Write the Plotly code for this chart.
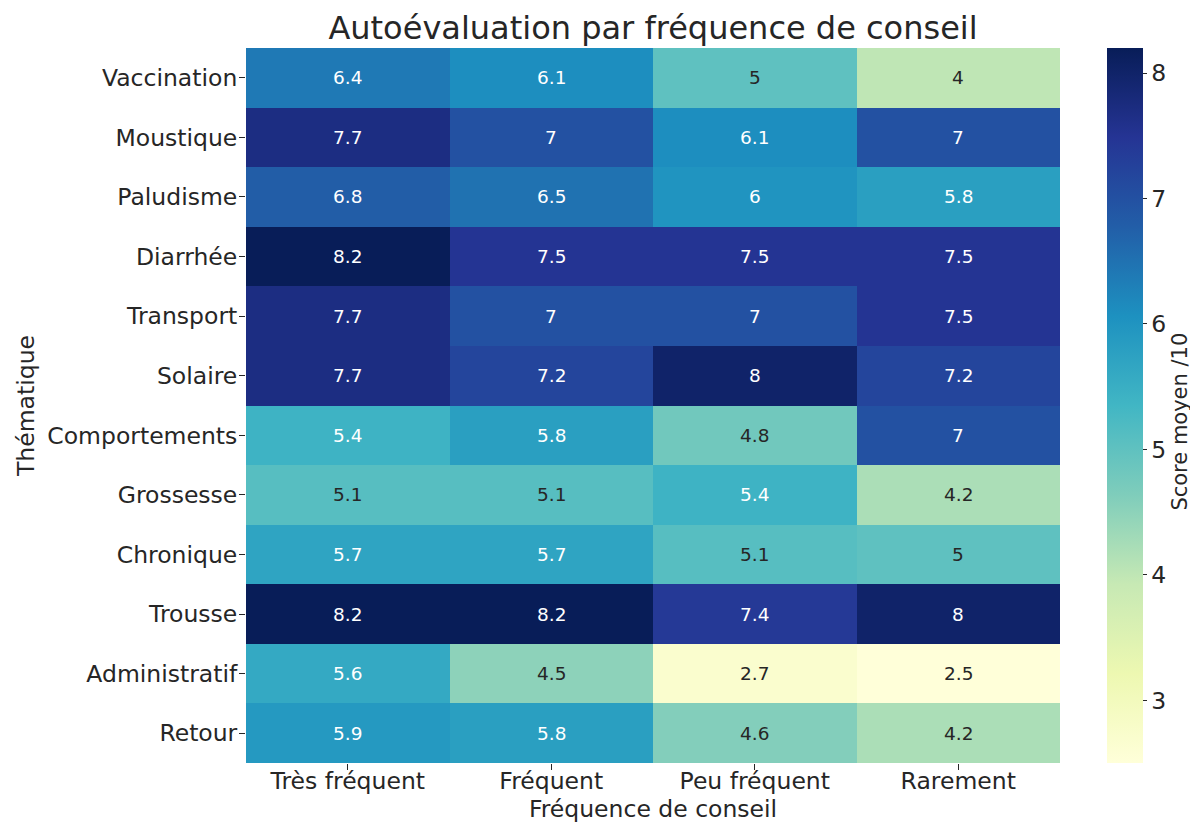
import plotly.graph_objects as go
import plotly.express as px

# Data
frequences = ["Très fréquent", "Fréquent", "Peu fréquent", "Rarement"]
thematiques = ["Vaccination", "Moustique", "Paludisme", "Diarrhée", "Transport", "Solaire",
               "Comportements", "Grossesse", "Chronique", "Trousse", "Administratif", "Retour"]

tres_frequent = [6.4, 7.7, 6.8, 8.2, 7.7, 7.7, 5.4, 5.1, 5.7, 8.2, 5.6, 5.9]
frequent = [6.1, 7.0, 6.5, 7.5, 7.0, 7.2, 5.8, 5.1, 5.7, 8.2, 4.5, 5.8]
peu_frequent = [5.0, 6.1, 6.0, 7.5, 7.0, 8.0, 4.8, 5.4, 5.1, 7.4, 2.7, 4.6]
rarement = [4.0, 7.0, 5.8, 7.5, 7.5, 7.2, 7.0, 4.2, 5.0, 8.0, 2.5, 4.2]

z = [list(row) for row in zip(tres_frequent, frequent, peu_frequent, rarement)]

FONT = "DejaVu Sans"
DARK = "#262626"
TICK = 23.5

# the page body adds an 8px offset, so the figure is a bit smaller than the window
fig = go.Figure(go.Heatmap(
    z=z, x=frequences, y=thematiques,
    colorscale=px.colors.sequential.YlGnBu,
    zmin=2.5, zmax=8.2,
    xgap=0, ygap=0,
    colorbar=dict(
        thickness=36, len=1, lenmode="fraction", y=0.5, yanchor="middle",
        x=1.0577, xanchor="left", xpad=0, ypad=0, outlinewidth=0,
        tickvals=[3, 4, 5, 6, 7, 8], ticks="outside", ticklen=4, tickcolor=DARK,
        tickfont=dict(size=TICK, color=DARK, family=FONT),
    ),
    hovertemplate="%{y} / %{x}: %{z}<extra></extra>",
))

annotations = []
for i, name in enumerate(thematiques):
    for j, freq in enumerate(frequences):
        v = z[i][j]
        annotations.append(dict(
            x=freq, y=name, text=f"{v:g}", showarrow=False,
            font=dict(size=18.5, family=FONT, color="white" if v > 5.25 else DARK),
        ))

# colorbar label, placed by hand to the right of the tick labels
annotations.append(dict(
    text="Score moyen /10", textangle=-90, showarrow=False,
    xref="paper", yref="paper", x=1.147, y=0.477, xanchor="center", yanchor="middle",
    font=dict(size=21, color=DARK, family=FONT),
))

fig.update_layout(
    width=1190, height=817,
    paper_bgcolor="white", plot_bgcolor="white",
    margin=dict(l=238, r=138, t=40, b=62, autoexpand=False),
    font=dict(family=FONT, color=DARK),
    title=dict(text="Autoévaluation par fréquence de conseil", x=0.5, xref="paper", xanchor="center",
               y=0.9755, yanchor="middle", font=dict(size=32, color=DARK, family=FONT)),
    annotations=annotations,
    xaxis=dict(title=dict(text="Fréquence de conseil", font=dict(size=TICK), standoff=0),
               tickfont=dict(size=TICK), ticks="outside", ticklen=6, tickcolor=DARK,
               ticklabelstandoff=-9,
               showgrid=False, zeroline=False, showline=False, automargin=False),
    yaxis=dict(title=dict(text="Thématique", font=dict(size=TICK), standoff=6),
               tickfont=dict(size=TICK), ticks="outside", ticklen=6, tickcolor=DARK,
               ticklabelstandoff=-3,
               autorange="reversed", showgrid=False, zeroline=False, showline=False, automargin=False),
)

fig.write_html("out.html")
